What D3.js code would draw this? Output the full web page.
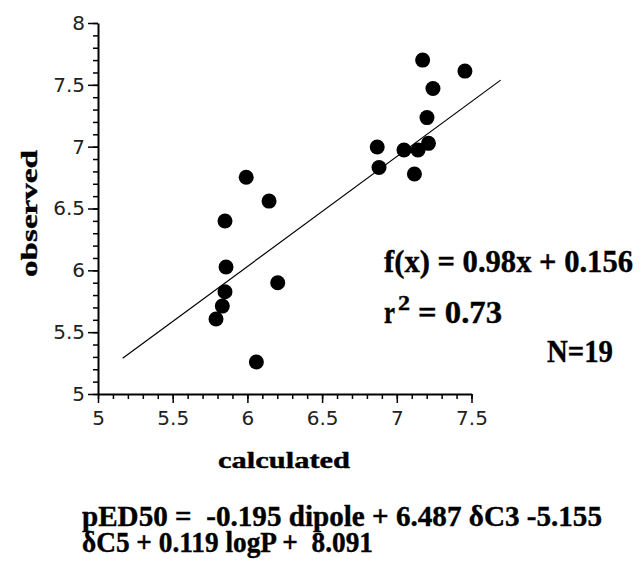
<!DOCTYPE html>
<html>
<head>
<meta charset="utf-8">
<style>
	body { margin: 0; background: #fff; }
	svg { display: block; }
	.tick text { font-family: "DejaVu Sans", sans-serif; fill: #222; }
	.lbl { font-family: "Liberation Serif", "Times New Roman", serif; font-weight: bold; fill: #000; white-space: pre; stroke: #000; stroke-width: 0.4; }
</style>
<script src="https://cdnjs.cloudflare.com/ajax/libs/d3/7.8.5/d3.min.js"></script>
</head>
<body>
<svg id="chart" width="641" height="567"></svg>
<script>
// values
let calcX = [7.173, 7.456, 7.242, 7.202, 7.212, 7.142, 7.048, 6.869, 6.881, 7.118,
	5.992, 6.145, 5.850, 5.857, 6.203, 5.850, 5.832, 5.790, 6.060];
let obsY = [7.70, 7.611, 7.470, 7.235, 7.027, 6.973, 6.973, 6.997, 6.831, 6.779,
	6.753, 6.560, 6.399, 6.027, 5.900, 5.827, 5.711, 5.606, 5.259];

let fitX = [5.165, 7.695];
let fitY = [5.289, 7.538];

let xTicks = [5, 5.5, 6, 6.5, 7, 7.5];
let yTicks = [5, 5.5, 6, 6.5, 7, 7.5, 8];
let xMinor = d3.range(5, 7.501, 0.1);
let yMinor = d3.range(5, 8.001, 0.1);

let svg = d3.select("#chart");

let x = d3.scaleLinear().domain([5, 7.5]).range([98, 471.5]);
let y = d3.scaleLinear().domain([5, 8]).range([394, 23]);

// minor ticks
svg.append("g")
	.attr("transform", "translate(0,394)")
	.call(d3.axisBottom(x).tickValues(xMinor).tickSize(5).tickFormat(""))
	.call(g => g.select(".domain").remove())
	.selectAll("line").attr("stroke-width", 1.5);
svg.append("g")
	.attr("transform", "translate(98,0)")
	.call(d3.axisLeft(y).tickValues(yMinor).tickSize(5).tickFormat(""))
	.call(g => g.select(".domain").remove())
	.selectAll("line").attr("stroke-width", 1.5);

// major ticks + labels
let xAxis = svg.append("g")
	.attr("transform", "translate(0,394)")
	.call(d3.axisBottom(x).tickValues(xTicks).tickSize(9).tickSizeOuter(0).tickPadding(8).tickFormat(d => String(d)));
xAxis.select(".domain").attr("stroke-width", 2);
xAxis.selectAll(".tick line").attr("stroke-width", 1.5);
xAxis.selectAll(".tick text").attr("font-size", 20);

let yAxis = svg.append("g")
	.attr("transform", "translate(98,0)")
	.call(d3.axisLeft(y).tickValues(yTicks).tickSize(10).tickSizeOuter(0).tickPadding(3).tickFormat(d => String(d)));
yAxis.select(".domain").attr("stroke-width", 2);
yAxis.selectAll(".tick line").attr("stroke-width", 1.5);
yAxis.selectAll(".tick text").attr("font-size", 20);

// fit line
svg.append("line")
	.attr("x1", x(fitX[0])).attr("y1", y(fitY[0]))
	.attr("x2", x(fitX[1])).attr("y2", y(fitY[1]))
	.attr("stroke", "#000").attr("stroke-width", 1.2);

// points
svg.append("g").selectAll("circle")
	.data(calcX.map((d, i) => [d, obsY[i]]))
	.join("circle")
	.attr("cx", d => x(d[0]))
	.attr("cy", d => y(d[1]))
	.attr("r", 7.5)
	.attr("fill", "#000");

// labels
function label(txt, px, py, size, len, anchor) {
	return svg.append("text")
		.attr("class", "lbl")
		.attr("x", px).attr("y", py)
		.attr("font-size", size)
		.attr("text-anchor", anchor || "start")
		.attr("textLength", len)
		.attr("lengthAdjust", "spacingAndGlyphs")
		.text(txt);
}

label("observed", 0, 0, 24, 127, "middle")
	.attr("transform", "translate(36.5,213.5) rotate(-90)");
label("calculated", 284, 468, 24, 132, "middle");

label("f(x) = 0.98x + 0.156", 384, 272, 31, 249);
label("r", 384, 323, 31, 11);
label("2", 398, 310, 20, 12);
label("= 0.73", 418, 323, 31, 84);
label("N=19", 547, 362, 31, 66);

label("pED50 =  -0.195 dipole + 6.487 \u03b4C3 -5.155", 82, 526, 29, 520);
label("\u03b4C5 + 0.119 logP +  8.091", 82, 552, 29, 291);
</script>
</body>
</html>
